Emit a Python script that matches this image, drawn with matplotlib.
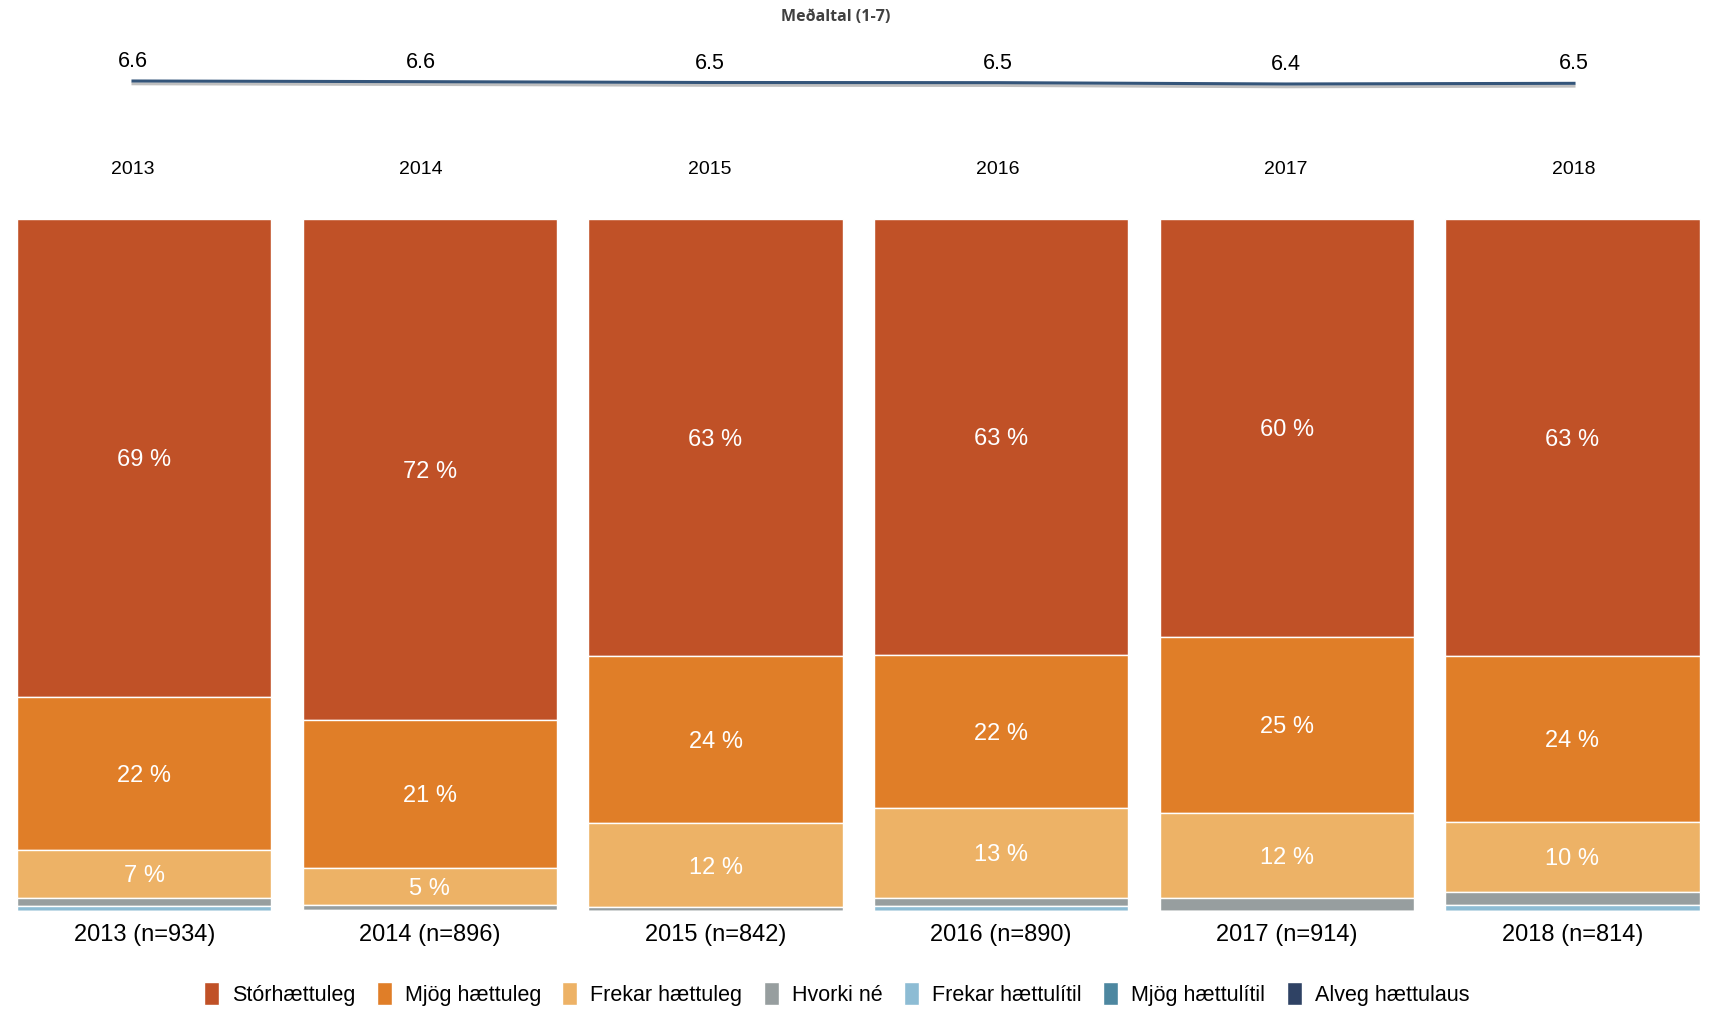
import matplotlib
matplotlib.use('Agg')
import matplotlib.pyplot as plt
import matplotlib.patheffects as pe
from matplotlib.transforms import blended_transform_factory
import numpy as np

plt.rcParams['font.family'] = ['Liberation Sans', 'DejaVu Sans']

# Gögn
years = ['2013', '2014', '2015', '2016', '2017', '2018']
n_values = [934, 896, 842, 890, 914, 814]
categories = ['Stórhættuleg', 'Mjög hættuleg', 'Frekar hættuleg', 'Hvorki né',
              'Frekar hættulítil', 'Mjög hættulítil', 'Alveg hættulaus']
storhaettuleg = [69.0, 72.4, 63.2, 63.0, 60.4, 63.1]
mjog_haettuleg = [22.1, 21.3, 24.1, 22.1, 25.4, 24.0]
frekar_haettuleg = [7.0, 5.4, 12.1, 13.0, 12.3, 10.1]
hvorki_ne = [1.1, 0.7, 0.6, 1.1, 1.9, 1.9]
frekar_haettulitil = [0.8, 0.2, 0.0, 0.8, 0.0, 0.9]
mjog_haettulitil = [0.0, 0.0, 0.0, 0.0, 0.0, 0.0]
alveg_haettulaus = [0.0, 0.0, 0.0, 0.0, 0.0, 0.0]
medaltal = [6.62, 6.58, 6.53, 6.52, 6.44, 6.48]

series = [storhaettuleg, mjog_haettuleg, frekar_haettuleg, hvorki_ne,
          frekar_haettulitil, mjog_haettulitil, alveg_haettulaus]
colors = ['#C05127', '#E07E28', '#EDB266', '#979E9F', '#8DBCD4', '#4D87A0', '#2F4264']

fig = plt.figure(figsize=(17.14, 10.09), dpi=100)

# Súlurit
ax = fig.add_axes([0.0092, 0.097, 0.9832, 0.686])
x = np.arange(len(years))
bottom = np.zeros(len(years))
# teikna ofan frá: stærsti flokkur efst
for vals, col, name in zip(series, colors, categories):
    vals = np.array(vals)
    b = 100 - bottom - vals
    ax.bar(x, vals, 0.89, bottom=b, color=col, edgecolor='white',
           linewidth=1.0, label=name)
    for xi, v, bi in zip(x, vals, b):
        if v >= 4:
            ax.text(xi, bi + v / 2, f'{round(v)} %', ha='center', va='center_baseline',
                    color='white', fontsize=17)
    bottom += vals

ax.set_xlim(-0.45, 5.45)
ax.set_ylim(0, 100)
ax.set_xticks(x)
ax.set_xticklabels([f'{y} (n={n})' for y, n in zip(years, n_values)], fontsize=17)
ax.tick_params(axis='x', length=0, pad=9)
ax.set_yticks([])
for s in ax.spines.values():
    s.set_visible(False)

# Meðaltal lína
ax2 = fig.add_axes([0.0, 0.827, 1.0, 0.099])
xl = np.arange(len(years))
ax2.plot(xl, medaltal, color='#34557A', lw=2.2,
         path_effects=[pe.SimpleLineShadow(offset=(0, -2), alpha=0.25), pe.Normal()])
for xi, m in zip(xl, medaltal):
    ax2.annotate(f'{m:.1f}', (xi, m), xytext=(0, 14), textcoords='offset points',
                 ha='center', va='center', fontsize=15.5)
trans = blended_transform_factory(ax2.transData, fig.transFigure)
for xi, y in zip(xl, years):
    ax2.text(xi, 1 - 169 / 1009, y, transform=trans, ha='center', va='center',
             fontsize=14)
ax2.set_xlim(-133 / 288.2, (1714 - 133) / 288.2)
ax2.set_ylim(1, 7)
ax2.axis('off')

fig.text(0.4875, 1 - 17 / 1009, 'Meðaltal (1-7)', ha='center', va='center',
         fontsize=11.5, fontweight='bold', color='#404040', family='Open Sans')

handles, labels = ax.get_legend_handles_labels()
fig.legend(handles, labels, loc='lower center', bbox_to_anchor=(0.488, -0.016),
           ncol=7, frameon=False, fontsize=15.5, handlelength=0.7, handleheight=1.3,
           handletextpad=0.6, columnspacing=1.0)

fig.savefig('out.png', dpi=100)
